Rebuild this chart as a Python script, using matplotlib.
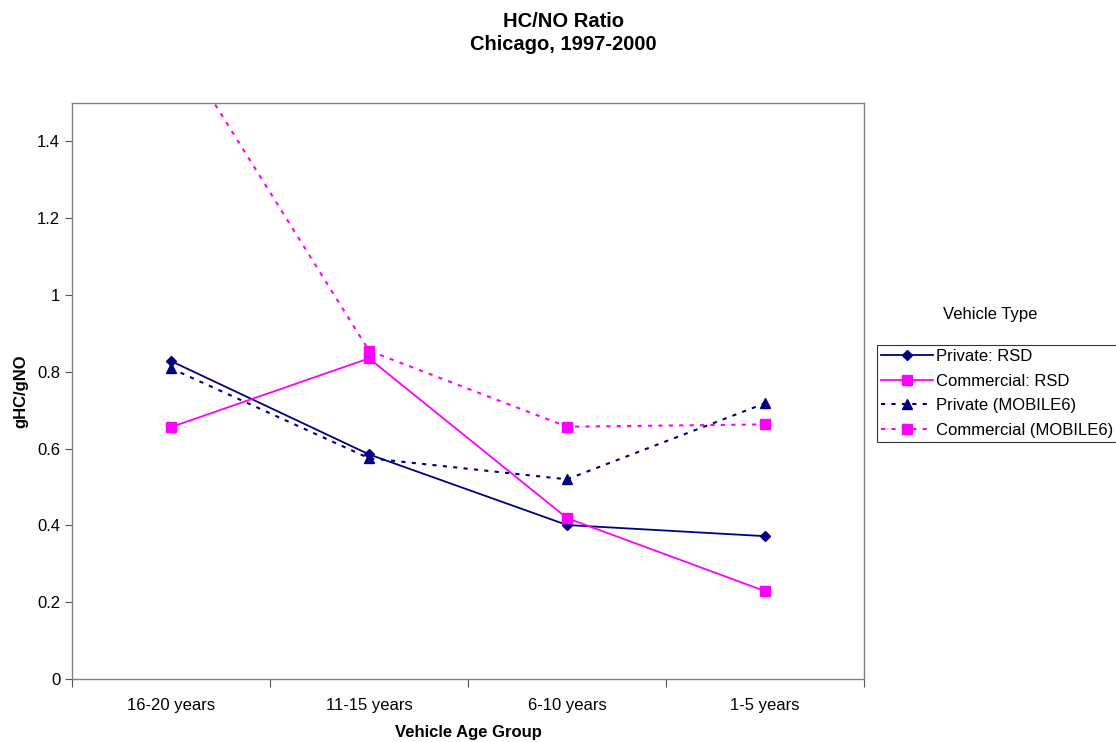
import matplotlib.pyplot as plt

plt.rcParams['font.family'] = ['Liberation Sans', 'DejaVu Sans']

age_groups = ['16-20 years', '11-15 years', '6-10 years', '1-5 years']

private_rsd = [0.828, 0.585, 0.401, 0.372]
commercial_rsd = [0.656, 0.835, 0.419, 0.229]
private_mobile6 = [0.809, 0.575, 0.520, 0.718]
commercial_mobile6 = [1.68, 0.855, 0.657, 0.663]

navy = '#000080'
magenta = '#FF00FF'

fig = plt.figure(figsize=(11.16, 7.42), dpi=100)
ax = fig.add_axes([0.0645, 0.0849, 0.7097, 0.7763])

x = range(len(age_groups))
ax.plot(x, private_rsd, color=navy, lw=1.3, marker='D', ms=5.5,
        label='Private: RSD')
ax.plot(x, commercial_rsd, color=magenta, lw=1.3, marker='s', ms=7,
        label='Commercial: RSD')
ax.plot(x, private_mobile6, color=navy, lw=1.5, ls=(0, (2, 3)), marker='^', ms=7,
        label='Private (MOBILE6)')
ax.plot(x, commercial_mobile6, color=magenta, lw=1.5, ls=(0, (2, 3)), marker='s', ms=7,
        label='Commercial (MOBILE6)')

ax.set_xlim(-0.5, 3.5)
ax.set_ylim(0, 1.5)
ax.set_yticks([0, 0.2, 0.4, 0.6, 0.8, 1.0, 1.2, 1.4])
ax.set_yticklabels(['0', '0.2', '0.4', '0.6', '0.8', '1', '1.2', '1.4'])
ax.set_xticks(list(x))
ax.set_xticklabels(age_groups)
ax.set_xticks([-0.5, 0.5, 1.5, 2.5, 3.5], minor=True)
ax.tick_params(axis='x', which='major', length=0, pad=14, labelsize=12)
ax.tick_params(axis='x', which='minor', length=6, width=0.8, color='#555555')
ax.tick_params(axis='y', length=5, width=0.8, color='#555555', labelsize=12)
for s in ax.spines.values():
    s.set_color('#808080')
    s.set_linewidth(1.0)

ax.set_xlabel('Vehicle Age Group', fontsize=12, fontweight='bold', labelpad=8)
ax.set_ylabel('gHC/gNO', fontsize=12, fontweight='bold', labelpad=6)

fig.text(0.505, 1 - 12 / 742, 'HC/NO Ratio\nChicago, 1997-2000', ha='center', va='top',
         fontsize=14.5, fontweight='bold', linespacing=1.3)

fig.text(990 / 1116, 1 - 315 / 742, 'Vehicle Type', ha='center', va='center', fontsize=12)
leg = ax.legend(loc='upper left', bbox_to_anchor=(877 / 1116, 1 - 345 / 742),
                bbox_transform=fig.transFigure, fontsize=12, frameon=True,
                fancybox=False, borderaxespad=0, handlelength=3.1,
                handletextpad=0.2, borderpad=0.25, labelspacing=0.57)
leg.get_frame().set_edgecolor('black')
leg.get_frame().set_linewidth(0.8)

fig.savefig('out.png', dpi=100)
